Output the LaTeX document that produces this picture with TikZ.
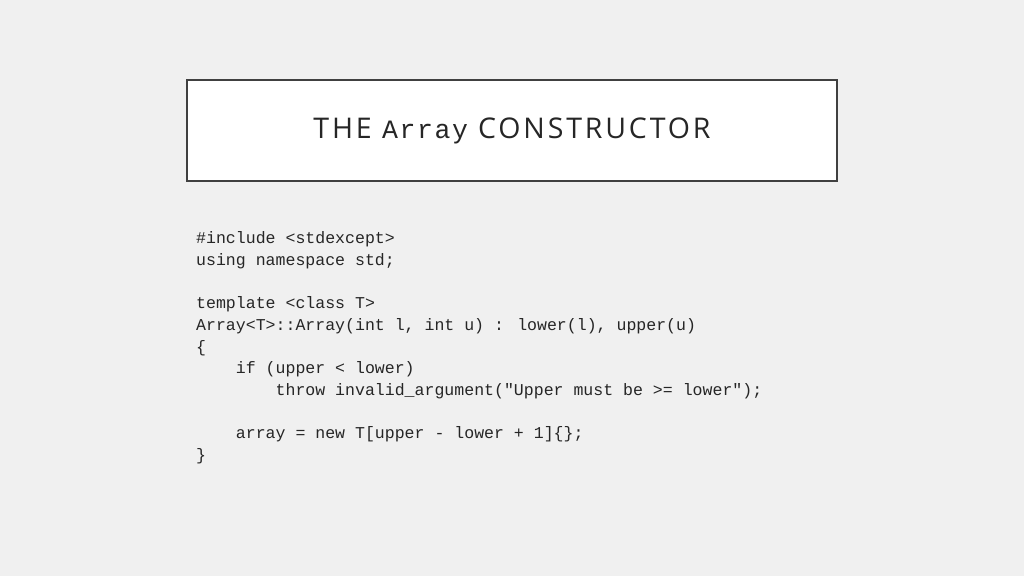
\documentclass[tikz,border=0pt]{standalone}
\usepackage{fontspec}
\setmainfont{Open Sans}
\newfontfamily\codefont{Liberation Mono}
\newfontfamily\titlefont[LetterSpace=10]{Open Sans}
\newfontfamily\titlecode[LetterSpace=6]{Liberation Mono}
\definecolor{bg}{HTML}{F0F0F0}
\definecolor{frame}{HTML}{404040}
\definecolor{ink}{HTML}{262626}
\begin{document}
\begin{tikzpicture}[x=1pt,y=-1pt,
  codeline/.style={anchor=base west,inner sep=0pt,text=ink,font=\codefont\fontsize{16.55}{18}\selectfont}]
\fill[bg] (0,0) rectangle (1024,576);
\useasboundingbox (0,0) rectangle (1024,576);
\node[draw=frame,line width=2.5pt,fill=white,minimum width=650pt,minimum height=101pt,inner sep=0pt] (title) at (512,130.5) {};
\node[text=ink,font=\titlefont\fontsize{28.5}{32}\selectfont] (tt) at (512,131) {THE {\titlecode\fontsize{26.5}{32}\selectfont Array} CONSTRUCTOR};
\node[codeline] (l1) at (196,243) {\#include <stdexcept>};
\node[codeline] (l2) at (196,265) {using namespace std;};
\node[codeline] (l3) at (196,308) {template <class T>};
\node[codeline] (l4) at (196,330) {Array<T>::Array(int l, int u) : lower(l), upper(u)};
\node[codeline] (l5) at (196,352) {\{};
\node[codeline] (l6) at (196,373) {\ \ \ \ if (upper < lower)};
\node[codeline] (l7) at (196,395) {\ \ \ \ \ \ \ \ throw invalid\_argument("Upper must be >= lower");};
\node[codeline] (l8) at (196,438) {\ \ \ \ array = new T[upper - lower + 1]\{\};};
\node[codeline] (l9) at (196,460) {\}};
\end{tikzpicture}
\end{document}
